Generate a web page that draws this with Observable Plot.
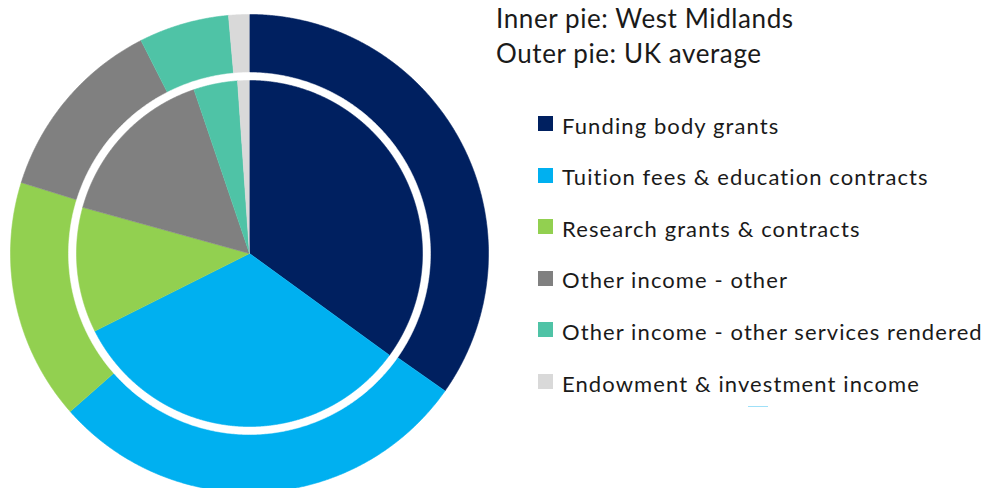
<!DOCTYPE html>
<html>
<head>
<meta charset="utf-8">
<script src="https://cdn.jsdelivr.net/npm/d3@7"></script>
<script src="https://cdn.jsdelivr.net/npm/@observablehq/plot@0.6"></script>
<style>
  html, body { margin: 0; padding: 0; background: #fff; }
  #wrap { position: relative; width: 993px; height: 488px; overflow: hidden; font-family: Lato, "Open Sans", sans-serif; color: #1a1a1a; }
  #chart { position: absolute; left: 0; top: 0; }
  .t { position: absolute; white-space: nowrap; line-height: 1.2; }
  .title { font-size: 26px; left: 496px; letter-spacing: 0.6px; }
  .leg { font-size: 22px; left: 562px; letter-spacing: 1.1px; }
  .sw { position: absolute; left: 538px; width: 15px; height: 15px; }
  .artifact { position: absolute; left: 748px; top: 405.5px; width: 20px; height: 1px; background: #9fe0f8; }
</style>
</head>
<body>
<div id="wrap"><div id="chart"></div><div class="artifact"></div></div>
<script>
const categories = [
  "Funding body grants",
  "Tuition fees & education contracts",
  "Research grants & contracts",
  "Other income - other",
  "Other income - other services rendered",
  "Endowment & investment income"
];
const colors = ["#002060", "#00B0F0", "#92D050", "#808080", "#4FC3A6", "#D9D9D9"];
// shares in percent
const ukAverage     = [34.75, 28.75, 16.3, 12.7, 6.1, 1.4];   // outer pie
const westMidlands  = [35.0, 32.6, 11.7, 15.5, 4.1, 1.1];     // inner pie
const titleLines = ["Inner pie: West Midlands", "Outer pie: UK average"];

const W = 993, H = 488;
const cx = 249, cy = 253, Rpx = 239;   // layout
const rOuter = 1, rRing = 181 / 239, rInner = 173 / 239;

function slices(values, radius, ring) {
  const total = d3.sum(values);
  const pts = [];
  let acc = 0;
  values.forEach((v, i) => {
    const a0 = acc / total * 2 * Math.PI;
    acc += v;
    const a1 = acc / total * 2 * Math.PI;
    const id = ring + "-" + i;
    pts.push({id, cat: categories[i], x: 0, y: 0});
    const n = Math.max(2, Math.ceil((a1 - a0) / 0.004));
    for (let k = 0; k <= n; k++) {
      const a = a0 + (a1 - a0) * k / n;
      pts.push({id, cat: categories[i], x: radius * Math.sin(a), y: radius * Math.cos(a)});
    }
  });
  return pts;
}
const circle = d3.range(0, 721).map(k => ({x: rRing * Math.sin(k / 720 * 2 * Math.PI), y: rRing * Math.cos(k / 720 * 2 * Math.PI)}));

const plot = Plot.plot({
  width: W, height: H,
  margin: 0,
  x: {domain: [-cx / Rpx, (W - cx) / Rpx], range: [0, W], axis: null},
  y: {domain: [-(H - cy) / Rpx, cy / Rpx], range: [H, 0], axis: null},
  color: {domain: categories, range: colors},
  marks: [
    Plot.line(slices(ukAverage, rOuter, "o"), {x: "x", y: "y", z: "id", fill: "cat", stroke: "cat", strokeWidth: 0.6}),
    Plot.line(circle, {x: "x", y: "y", fill: "white", stroke: "white", strokeWidth: 0.5}),
    Plot.line(slices(westMidlands, rInner, "i"), {x: "x", y: "y", z: "id", fill: "cat", stroke: "cat", strokeWidth: 0.6})
  ]
});
document.getElementById("chart").appendChild(plot);

const wrap = document.getElementById("wrap");
titleLines.forEach((s, i) => {
  const d = document.createElement("div");
  d.className = "t title";
  d.style.top = (29 + i * 35 - 26 * 0.987) + "px";
  d.textContent = s;
  wrap.appendChild(d);
});
categories.forEach((c, i) => {
  const base = 134.3 + i * 51.6;
  const sw = document.createElement("div");
  sw.className = "sw";
  sw.style.top = (base - 18.3) + "px";
  sw.style.background = colors[i];
  wrap.appendChild(sw);
  const d = document.createElement("div");
  d.className = "t leg";
  d.style.top = (base - 22 * 0.987) + "px";
  d.textContent = c;
  wrap.appendChild(d);
});
</script>
</body>
</html>
